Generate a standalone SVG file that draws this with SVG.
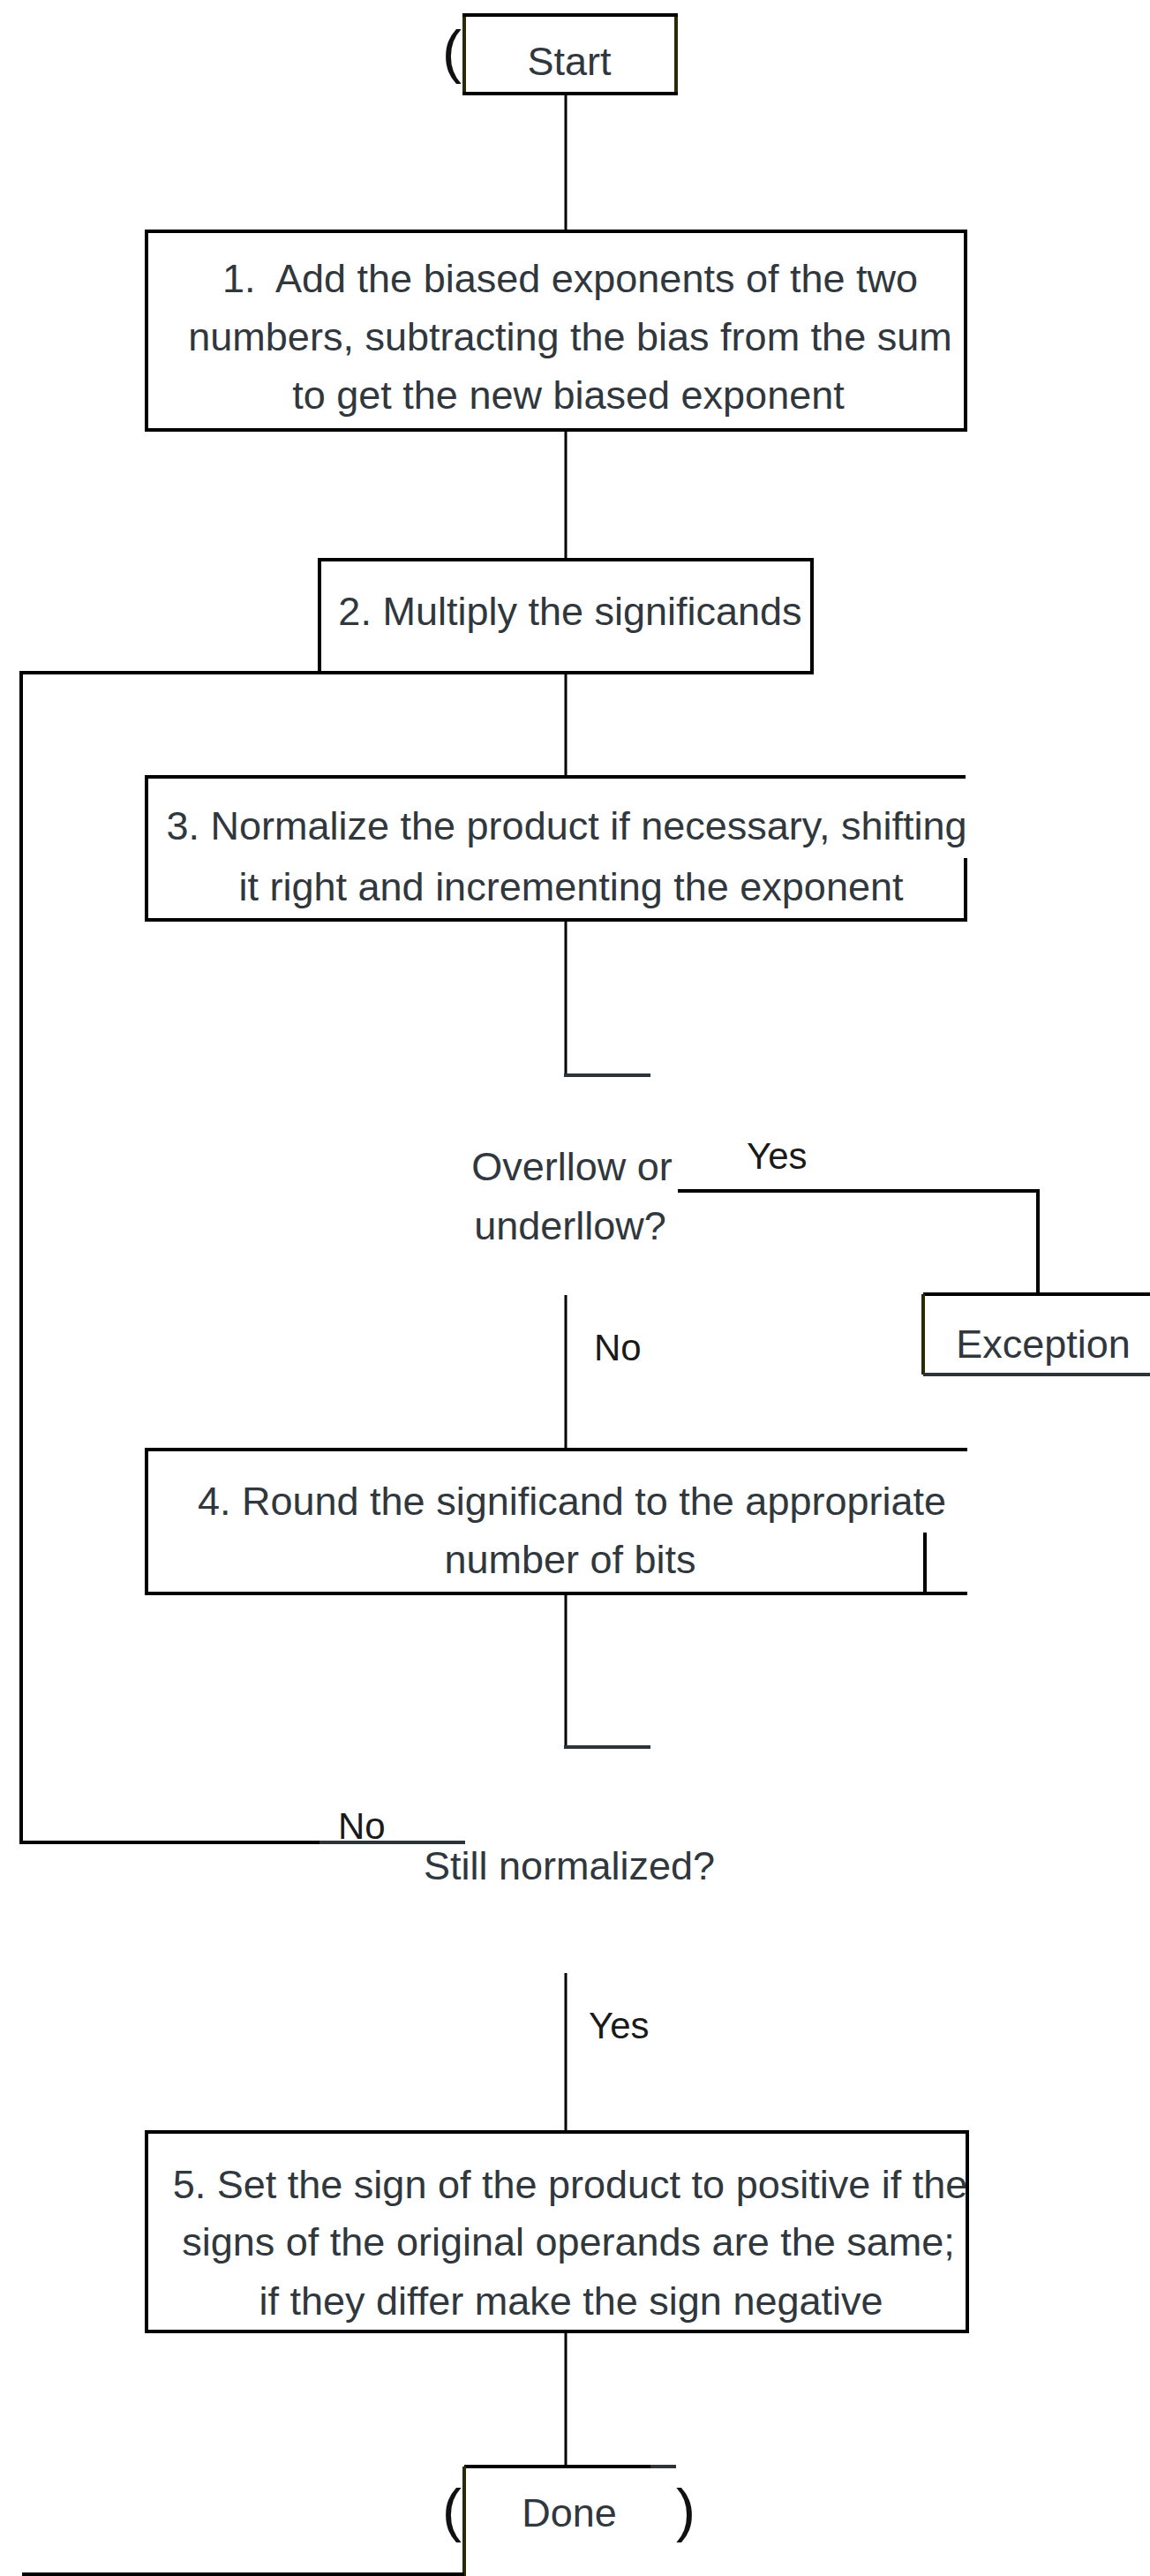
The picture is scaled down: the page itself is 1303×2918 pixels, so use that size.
<svg xmlns="http://www.w3.org/2000/svg" width="1303" height="2918" viewBox="0 0 1303 2918">
<style>
.t{font-family:"Liberation Sans",Arial,sans-serif;font-size:45px;fill:#30373d;text-anchor:middle}
.l{font-family:"Liberation Sans",Arial,sans-serif;font-size:42px;fill:#1a1a1a}
.p{font-family:"Liberation Sans",Arial,sans-serif;font-size:66px;fill:#111}
.b{fill:#fff;stroke:#000;stroke-width:4}
.e{fill:none;stroke:#000;stroke-width:4}
.g{fill:none;stroke:#2d3338;stroke-width:4}
.o{fill:none;stroke:#2a2a05;stroke-width:4}
.c{fill:none;stroke:#000;stroke-width:3}
</style>
<rect width="1303" height="2918" fill="#fff"/>
<g id="connectors">
<path class="c" d="M641 106V262"/>
<path class="c" d="M641 487V634"/>
<path class="c" d="M641 762V880"/>
<path class="e" d="M362 762H24V2087H362"/>
<path class="g" d="M362 2087H527"/>
<path class="c" d="M641 1042V1218"/>
<path class="g" d="M639 1218H737"/>
<path class="e" d="M768 1349H1176V1466"/>
<path class="c" d="M641 1467V1642"/>
<path class="c" d="M641 1805V1979"/>
<path class="g" d="M639 1979H737"/>
<path class="c" d="M641 2235V2415"/>
<path class="c" d="M641 2641V2794"/>
<text class="l" x="846" y="1324">Yes</text>
<text class="l" x="673" y="1541">No</text>
<text class="l" x="383" y="2083">No</text>
<text class="l" x="667" y="2309">Yes</text>
</g>
<g id="start">
<rect class="b" x="526" y="17" width="240" height="89"/>
<path class="o" d="M526 19V104M766 19V104"/>
<text class="p" x="501" y="81">(</text>
<text class="t" x="645" y="85">Start</text>
</g>
<g id="step1">
<rect class="b" x="166" y="262" width="928" height="225"/>
<text class="t" x="646" y="331">1.&#160; Add the biased exponents of the two</text>
<text class="t" x="646" y="397">numbers, subtracting the bias from the sum</text>
<text class="t" x="644" y="463">to get the new biased exponent</text>
</g>
<g id="step2">
<rect class="b" x="362" y="634" width="558" height="128"/>
<text class="t" x="646" y="708">2. Multiply the significands</text>
</g>
<g id="step3">
<path class="e" d="M1094 880H166V1042H1094V972"/>
<text class="t" x="642" y="951">3. Normalize the product if necessary, shifting</text>
<text class="t" x="647" y="1020">it right and incrementing the exponent</text>
</g>
<g id="overflow">
<text class="t" x="648" y="1337">Overllow or</text>
<text class="t" x="646" y="1404">underllow?</text>
</g>
<g id="exception">
<path class="e" d="M1303 1466H1046"/>
<path class="o" d="M1046 1466V1557"/>
<path class="g" d="M1046 1557H1303"/>
<text class="t" x="1182" y="1538">Exception</text>
</g>
<g id="step4">
<path class="e" d="M1096 1642H166V1805H1096M1048 1805V1736"/>
<text class="t" x="648" y="1716">4. Round the significand to the appropriate</text>
<text class="t" x="646" y="1782">number of bits</text>
</g>
<g id="normalized">
<text class="t" x="645" y="2129">Still normalized?</text>
</g>
<g id="step5">
<rect class="b" x="166" y="2415" width="930" height="226"/>
<text class="t" x="646" y="2490">5. Set the sign of the product to positive if the</text>
<text class="t" x="644" y="2555">signs of the original operands are the same;</text>
<text class="t" x="647" y="2622">if they differ make the sign negative</text>
</g>
<g id="done">
<path class="e" d="M526 2794H737"/>
<path class="g" d="M737 2794H766"/>
<path class="o" d="M526 2794V2918"/>
<path class="e" d="M25 2916H526"/>
<text class="p" x="501" y="2866">(</text>
<text class="p" x="766" y="2866">)</text>
<text class="t" x="645" y="2862">Done</text>
</g>
</svg>
